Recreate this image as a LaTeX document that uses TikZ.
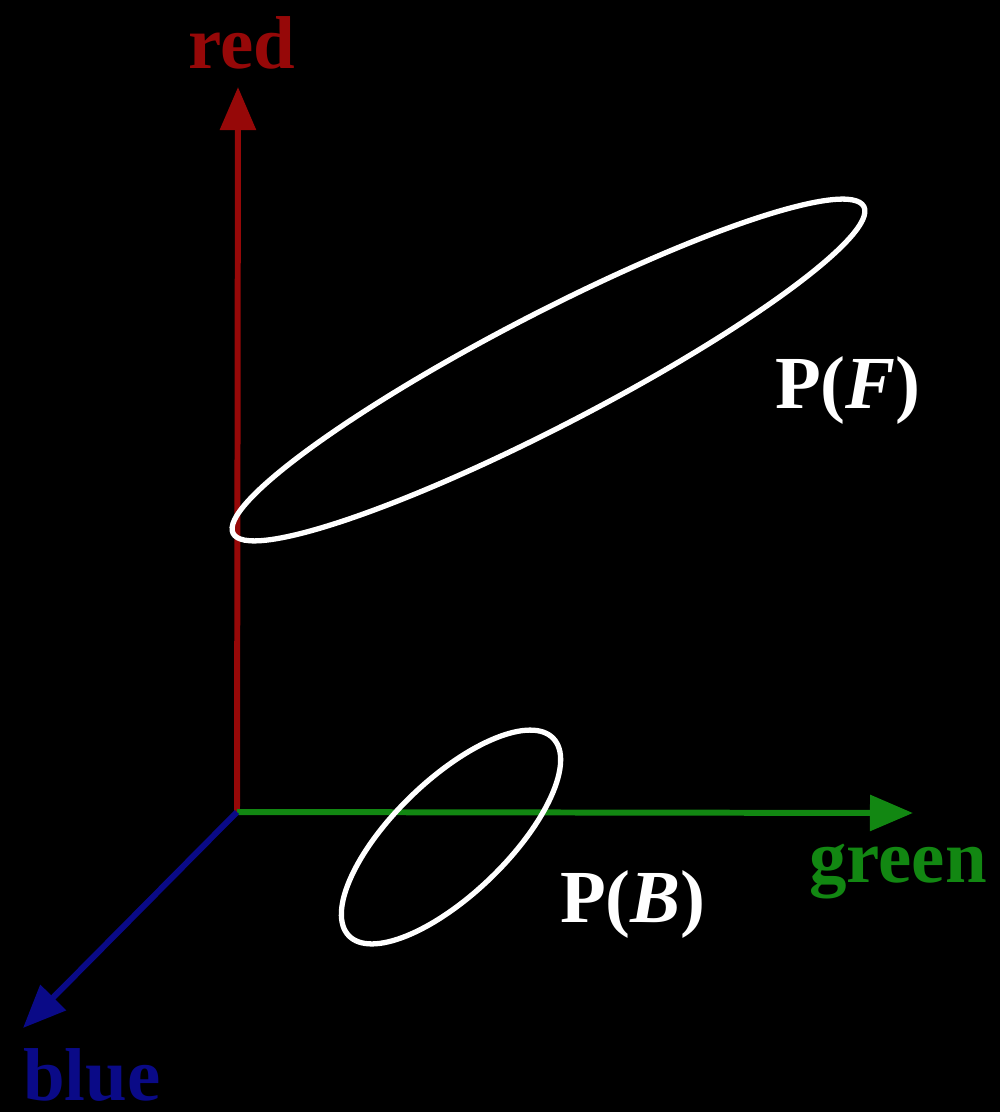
\documentclass[tikz,border=0pt]{standalone}
\usepackage{fontspec}
\setmainfont{Liberation Serif}
\usetikzlibrary{arrows.meta}
\definecolor{axred}{RGB}{150,8,8}
\definecolor{axgreen}{RGB}{18,135,18}
\definecolor{axblue}{RGB}{10,10,135}
\tikzset{
  axis/.style={line width=1.7pt, -{Triangle[length=4.3mm, width=3.5mm]}},
  lbl/.style={inner sep=0pt, anchor=base, font=\fontsize{21.3}{25}\selectfont\bfseries},
  region/.style={draw=white, line width=1.5pt}
}
\begin{document}
\begin{tikzpicture}[x=0.01cm, y=-0.01cm]
\fill[black] (0,0) rectangle (1000,1112);
\useasboundingbox (0,0) rectangle (1000,1112);
\coordinate (O) at (237,812);
\coordinate (R) at (238,87);
\coordinate (G) at (913,813);
\coordinate (B) at (23,1028);
\draw[axis, axred] (O) -- (R);
\draw[axis, axgreen] (O) -- (G);
\draw[axis, axblue] (O) -- (B);
\node[lbl, text=axred] (lred) at (242,68) {red};
\node[lbl, text=axgreen] (lgreen) at (898,882) {green};
\node[lbl, text=axblue, text depth=0pt] (lblue) at (92,1100) {blue};
\coordinate (cF) at (548.5,370);
\coordinate (cB) at (451,837);
\draw[region, rotate around={27.4:(cF)}] (cF) ellipse [x radius=3.55cm, y radius=0.56cm];
\draw[region, rotate around={44:(cB)}] (cB) ellipse [x radius=1.42cm, y radius=0.57cm];
\node[lbl, text=white] (pF) at (848,408) {P(\textit{F})};
\node[lbl, text=white] (pB) at (633,922) {P(\textit{B})};
\end{tikzpicture}
\end{document}
